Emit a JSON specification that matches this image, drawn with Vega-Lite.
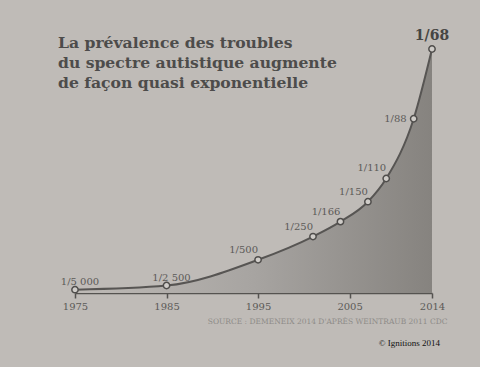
{
  "$schema": "https://vega.github.io/schema/vega-lite/v6.json",
  "width": 357,
  "height": 244,
  "autosize": {"type": "none"},
  "padding": {"left": 75, "top": 49, "right": 48, "bottom": 74},
  "background": "#bfbbb7",
  "view": {"stroke": null},
  "title": {
    "text": ["La prévalence des troubles", "du spectre autistique augmente", "de façon quasi exponentielle"],
    "anchor": "start",
    "frame": "group",
    "orient": "top",
    "baseline": "top",
    "offset": 0,
    "dx": -17,
    "dy": 63,
    "font": "DejaVu Serif",
    "fontSize": 15.6,
    "fontWeight": "bold",
    "color": "#4d4c4b",
    "lineHeight": 20
  },
  "data": {
    "values": [
      {"year": 1975, "value": 0.2, "label": "1/5 000"},
      {"year": 1985, "value": 0.45, "label": "1/2 500"},
      {"year": 1995, "value": 2.0, "label": "1/500"},
      {"year": 2001, "value": 3.4, "label": "1/250"},
      {"year": 2004, "value": 4.3, "label": "1/166"},
      {"year": 2007, "value": 5.5, "label": "1/150"},
      {"year": 2009, "value": 6.9, "label": "1/110"},
      {"year": 2012, "value": 10.5, "label": "1/88"},
      {"year": 2014, "value": 14.7, "label": "1/68"}
    ]
  },
  "encoding": {
    "x": {
      "field": "year",
      "type": "quantitative",
      "scale": {"domain": [1975, 2014], "nice": false, "zero": false},
      "axis": {
        "values": [1975, 1985, 1995, 2005, 2014],
        "format": "d",
        "grid": false,
        "domainColor": "#555350",
        "domainWidth": 1.5,
        "tickColor": "#555350",
        "tickWidth": 1.5,
        "tickSize": 5,
        "labelFont": "DejaVu Serif",
        "labelFontSize": 10,
        "labelColor": "#5c5a58",
        "labelPadding": 3,
        "labelFlush": false,
        "title": "SOURCE : DEMENEIX 2014 D'APRÈS WEINTRAUB 2011 CDC",
        "titleFont": "DejaVu Serif",
        "titleFontSize": 7.5,
        "titleFontWeight": "normal",
        "titleColor": "#8e8b88",
        "titleAnchor": "end",
        "titleAlign": "right",
        "titleX": 372,
        "titlePadding": 6
      }
    },
    "y": {
      "field": "value",
      "type": "quantitative",
      "scale": {"domain": [0, 14.7], "nice": false},
      "axis": null
    }
  },
  "layer": [
    {
      "mark": {
        "type": "area",
        "interpolate": "monotone",
        "color": {
          "gradient": "linear",
          "x1": 0, "x2": 1, "y1": 0, "y2": 0,
          "stops": [
            {"offset": 0, "color": "#bebab6"},
            {"offset": 0.5, "color": "#a7a4a1"},
            {"offset": 1, "color": "#86837f"}
          ]
        }
      }
    },
    {
      "mark": {"type": "line", "interpolate": "monotone", "color": "#575553", "strokeWidth": 2}
    },
    {
      "mark": {"type": "point", "filled": true, "fill": "#cfccc8", "stroke": "#4f4d4b", "strokeWidth": 1.5, "size": 40, "opacity": 1}
    },
    {
      "transform": [{"filter": {"field": "year", "oneOf": [1995, 2001, 2004, 2007, 2009]}}],
      "mark": {"type": "text", "align": "right", "baseline": "bottom", "dx": 0, "dy": -5, "font": "DejaVu Serif", "fontSize": 10, "color": "#5c5a58"},
      "encoding": {"text": {"field": "label"}}
    },
    {
      "transform": [{"filter": {"field": "year", "oneOf": [1975, 1985]}}],
      "mark": {"type": "text", "align": "center", "baseline": "bottom", "dx": 5, "dy": -3, "font": "DejaVu Serif", "fontSize": 10, "color": "#5c5a58"},
      "encoding": {"text": {"field": "label"}}
    },
    {
      "transform": [{"filter": {"field": "year", "equal": 2012}}],
      "mark": {"type": "text", "align": "right", "baseline": "middle", "dx": -7, "font": "DejaVu Serif", "fontSize": 10, "color": "#5c5a58"},
      "encoding": {"text": {"field": "label"}}
    },
    {
      "transform": [{"filter": {"field": "year", "equal": 2014}}],
      "mark": {"type": "text", "align": "center", "baseline": "bottom", "dy": -6, "font": "DejaVu Serif", "fontSize": 14, "fontWeight": "bold", "color": "#464543"},
      "encoding": {"text": {"field": "label"}}
    },
    {
      "data": {"values": [{"year": 2014, "value": -3.0, "note": "© Ignitions 2014"}]},
      "mark": {"type": "text", "align": "right", "baseline": "middle", "dx": 8, "font": "Liberation Serif", "fontSize": 9, "color": "#111111"},
      "encoding": {
        "text": {"field": "note"}
      }
    }
  ]
}
